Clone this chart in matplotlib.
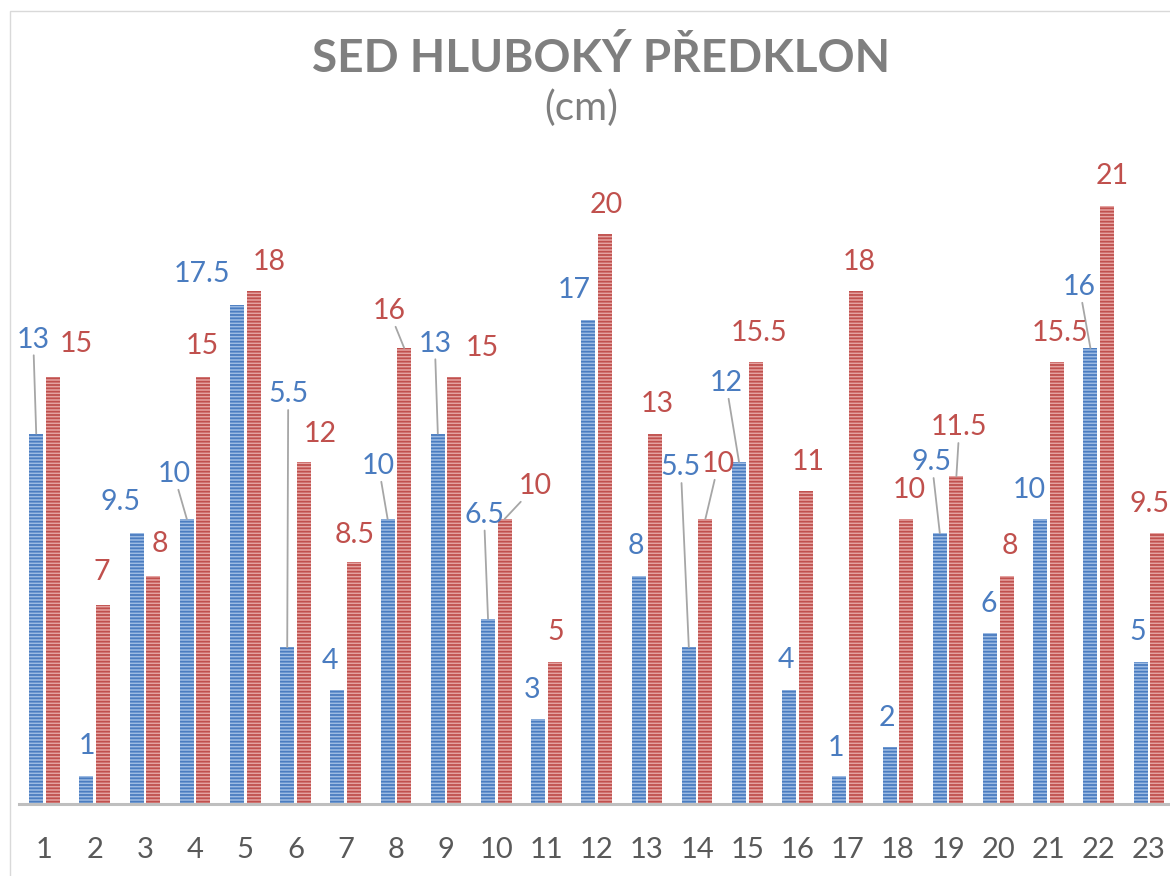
import matplotlib.pyplot as plt
import numpy as np
from matplotlib.patches import Rectangle

# data (cm)
categories = [str(i) for i in range(1, 24)]
series_blue = [13, 1, 9.5, 10, 17.5, 5.5, 4, 10, 13, 6.5, 3, 17, 8, 5.5, 12, 4, 1, 2, 9.5, 6, 10, 16, 5]
series_red = [15, 7, 8, 15, 18, 12, 8.5, 16, 15, 10, 5, 20, 13, 10, 15.5, 11, 18, 10, 11.5, 8, 15.5, 21, 9.5]

# label offsets in pixels from the bar top (dx, dy, leader line)
blue_lbl = [(-3, 94, True), (1, 30, False), (-16, 31, False), (-13, 45, True), (-35, 31, False),
            (1, 253, True), (-7, 29, False), (-9, 53, True), (-3, 90, True), (-4, 104, True),
            (-6, 28, False), (-14, 29, False), (-3, 30, False), (-8, 180, True), (-13, 79, True),
            (-3, 30, False), (-3, 28, False), (-3, 29, False), (-8, 71, True), (-1, 29, False),
            (-11, 29, False), (-11, 61, True), (-3, 29, False)]
red_lbl = [(23, 32, False), (-1, 32, False), (7, 32, False), (-1, 31, False), (16, 29, False),
           (16, 28, False), (1, 27, False), (-15, 37, True), (28, 29, False), (31, 33, True),
           (1, 29, False), (1, 29, False), (2, 29, False), (13, 55, True), (3, 29, False),
           (2, 29, False), (3, 29, False), (3, 29, False), (3, 49, True), (3, 30, False),
           (3, 29, False), (5, 29, False), (-8, 29, False)]

BLUE_DARK, BLUE_LIGHT = "#4a7cc0", "#9dbbe3"
RED_DARK, RED_LIGHT = "#c0504d", "#e5a3a1"

plt.rcParams['font.family'] = ['Lato', 'DejaVu Sans']
plt.rcParams['hatch.linewidth'] = 1.3

W, H = 1170, 876
fig = plt.figure(figsize=(W / 100, H / 100), dpi=100)

# chart frame
fig.patches.append(Rectangle((10 / W, -0.1), 1.2, (H - 11) / H + 0.1, transform=fig.transFigure,
                             fill=False, edgecolor="#d9d9d9", lw=1))

step = 50.2
x0 = 44.5
left_px = x0 - step / 2
xmax = 1 + (W - x0) / step
ax_w = (xmax - 0.5) * step
ppu = 28.5
ymax = 24
ax = fig.add_axes([left_px / W, (H - 804) / H, ax_w / W, ymax * ppu / H])

x = np.arange(1, 24)
bw = 0.28
off = 0.165
bb = ax.bar(x - off, series_blue, bw, facecolor=BLUE_LIGHT, edgecolor=BLUE_DARK, hatch='-----', lw=0)
rb = ax.bar(x + off, series_red, bw, facecolor=RED_LIGHT, edgecolor=RED_DARK, hatch='-----', lw=0)
for p in bb:
    p._hatch_color = (0.29, 0.486, 0.753, 1)
for p in rb:
    p._hatch_color = (0.753, 0.314, 0.302, 1)

ax.set_xlim(0.5, xmax)
ax.set_ylim(0, ymax)
for s in ['top', 'right', 'left']:
    ax.spines[s].set_visible(False)
ax.spines['bottom'].set_color("#bfbfbf")
ax.spines['bottom'].set_linewidth(2.2)
ax.set_yticks([])
ax.set_xticks(x)
ax.set_xticklabels(categories, fontsize=21, color="#595959")
ax.tick_params(axis='x', length=0, pad=24)


def fmt(v):
    return f"{v:g}"


for xs, vals, lbls, col in [(x - off, series_blue, blue_lbl, BLUE_DARK), (x + off, series_red, red_lbl, RED_DARK)]:
    for xi, v, (dx, dy, lead) in zip(xs, vals, lbls):
        kw = {}
        if lead:
            kw['arrowprops'] = dict(arrowstyle='-', color="#a6a6a6", lw=1.3, shrinkA=0, shrinkB=0)
        ax.annotate(fmt(v), xy=(xi, v), xytext=(dx, dy), textcoords='offset pixels',
                    ha='center', va='center', fontsize=20.5, color=col, annotation_clip=False, **kw)

fig.text(601 / W, 1 - 58 / H, "SED HLUBOKÝ PŘEDKLON", ha='center', va='center', fontsize=33,
         fontweight='bold', color="#7f7f7f")
fig.text(581 / W, 1 - 108 / H, "(cm)", ha='center', va='center', fontsize=29, color="#7f7f7f")

fig.savefig("out.png", dpi=100)
